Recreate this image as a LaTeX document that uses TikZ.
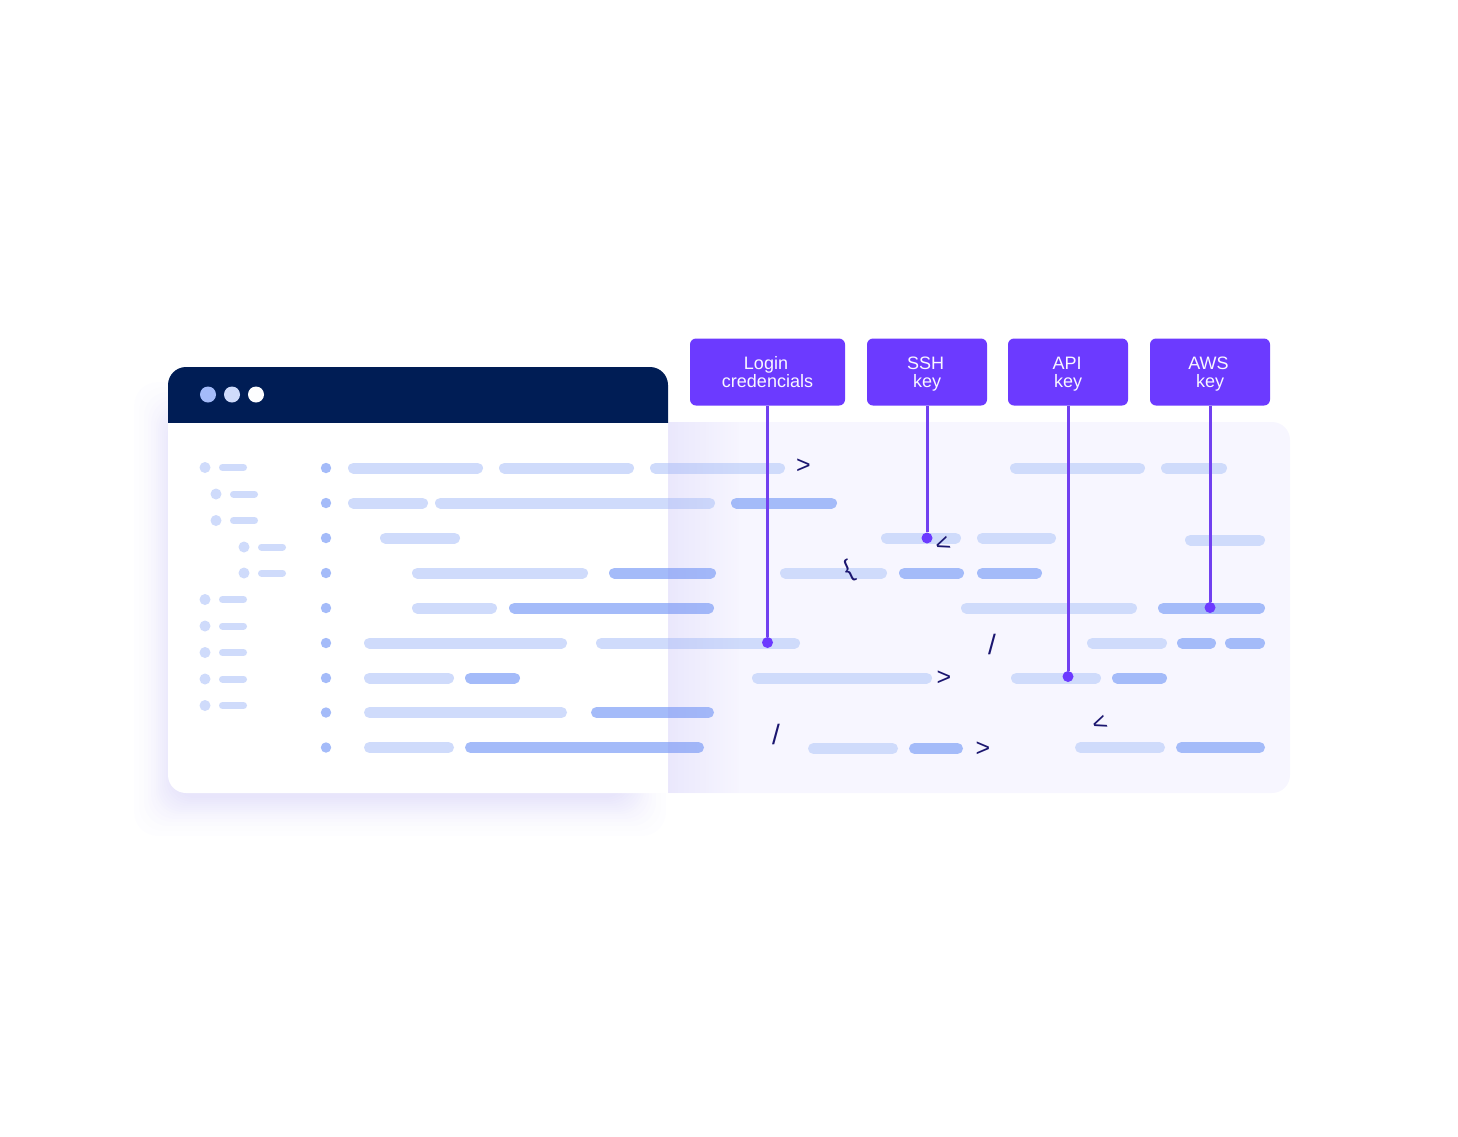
\documentclass[tikz,border=0pt]{standalone}
\usepackage{fontspec}
\setmainfont{Liberation Sans}
\usetikzlibrary{fadings}

\definecolor{navybar}{HTML}{001D55}
\definecolor{violetbox}{HTML}{6C3AFF}
\definecolor{violetline}{HTML}{7140F0}
\definecolor{panelfill}{HTML}{F7F6FF}
\definecolor{lightblue}{HTML}{CFDBFB}
\definecolor{midblue}{HTML}{A4BBF9}
\definecolor{shadowviolet}{HTML}{7A6BE8}
\definecolor{codenavy}{HTML}{1B1670}

\begin{document}
\begin{tikzpicture}[x=1pt, y=-1pt,
    secretbox/.style={fill=violetbox, text=white!96!violetbox, rounded corners=6pt, align=center, inner sep=0pt, minimum height=67pt, text depth=0pt, font=\fontsize{18}{18}\selectfont},
    pindot/.style={circle, fill=violetbox, inner sep=0pt, minimum size=11pt},
    pinline/.style={violetline, line width=3pt},
    lightbar/.style={lightblue, line width=11pt, line cap=round},
    darkbar/.style={midblue, line width=11pt, line cap=round},
    treebar/.style={lightblue, line width=7pt, line cap=round},
    codechar/.style={text=codenavy, inner sep=0pt, font=\fontsize{25}{25}\selectfont},
    codeslash/.style={text=codenavy, inner sep=0pt, font=\fontsize{28}{28}\selectfont}]
    \useasboundingbox (0,0) rectangle (1458,1136);

    % Soft shadow under the window
    \foreach \r in {0,2,4,6,8,10,12,14,16,18,21,24,28,33,38}
        \fill[shadowviolet, opacity=0.011, rounded corners=24pt] (172-\r,420-\r) rectangle (628+\r,798+\r);

    % Panel behind the window
    \fill[panelfill] (668,422) {[rounded corners=18pt] -- (1290,422) -- (1290,793)} -- (668,793) -- cycle;

    % Window body and title bar
    \begin{scope}
        \clip (168,422) rectangle (668,793);
        \fill[white, rounded corners=18pt] (168,380) rectangle (720,793);
    \end{scope}
    \begin{scope}
        \clip (168,367) rectangle (668,422);
        \fill[navybar, rounded corners=18pt] (168,367) rectangle (668,460);
    \end{scope}
    \fill[midblue] (208,394.5) circle (8);
    \fill[lightblue] (232,394.5) circle (8);
    \fill[white!97!lightblue] (256,394.5) circle (8);

    % File tree on the left
    \foreach \x/\y in {205/467.5, 216/494, 216/520.5, 244/547, 244/573, 205/599.5, 205/626, 205/652.5, 205/679, 205/705.5} {
        \fill[lightblue] (\x,\y) circle (5.5);
        \draw[treebar] ({\x+17.5},\y) -- ({\x+38.5},\y);
    }

    % Bullets of the code lines
    \foreach \y in {468,503,538,573,608,643,678,712.5,747.5}
        \fill[midblue] (326,\y) circle (5.2);

    % Code lines, pale ones
    \foreach \xa/\xb/\y in {348/483/468, 499/634/468, 650/785/468, 1010/1145/468, 1161/1227/468,
        348/428/503, 435/715/503,
        380/460/538, 881/961/538, 977/1056/538, 1185/1265/540,
        412/588/573, 780/887/573,
        412/497/608, 961/1137/608,
        364/567/643, 596/800/643, 1087/1167/643,
        364/454/678, 752/932/678, 1011/1101/678,
        364/567/712.5,
        364/454/747.5, 808/898/748.5, 1075/1165/747.5}
        \draw[lightbar] ({\xa+5.5},\y) -- ({\xb-5.5},\y);

    % Code lines, darker ones
    \foreach \xa/\xb/\y in {731/837/503,
        609/716/573, 899/964/573, 977/1042/573,
        509/714/608, 1158/1265/608,
        1177/1216/643, 1225/1265/643,
        465/520/678, 1112/1167/678,
        591/714/712.5,
        465/704/747.5, 909/963/748.5, 1176/1265/747.5}
        \draw[darkbar] ({\xa+5.5},\y) -- ({\xb-5.5},\y);

    % Shade the window throws over the panel
    \fill[shadowviolet, opacity=0.1, path fading=east] (668,422) rectangle (740,793);

    % Stray code characters
    \node[codechar] (chevrona) at (803.5,466) {>};
    \node[codechar, rotate=20] (anglea) at (943,545) {<};
    \node[codechar, rotate=25] (bracea) at (849,570.5) {\{};
    \node[codeslash] (slasha) at (992,644) {/};
    \node[codechar] (chevronb) at (944,678.5) {>};
    \node[codeslash] (slashb) at (776,734) {/};
    \node[codechar] (chevronc) at (983,749.5) {>};
    \node[codechar, rotate=20] (angleb) at (1100,724) {<};

    % Labels of the secrets
    \node[secretbox, minimum width=155pt] (login) at (767.5,372) {Login\kern3pt\\credencials};
    \node[secretbox, minimum width=120pt] (ssh) at (927,372) {SSH\kern3pt\\key};
    \node[secretbox, minimum width=120pt] (api) at (1068,372) {API\kern2pt\\key};
    \node[secretbox, minimum width=120pt] (aws) at (1210,372) {AWS\kern3pt\\key};

    % Pins on the leaked lines
    \node[pindot] (loginpin) at (767.5,642.5) {};
    \node[pindot] (sshpin) at (927,538) {};
    \node[pindot] (apipin) at (1068,676.5) {};
    \node[pindot] (awspin) at (1210,607.5) {};

    \draw[pinline] (login) -- (loginpin);
    \draw[pinline] (ssh) -- (sshpin);
    \draw[pinline] (api) -- (apipin);
    \draw[pinline] (aws) -- (awspin);
\end{tikzpicture}
\end{document}
